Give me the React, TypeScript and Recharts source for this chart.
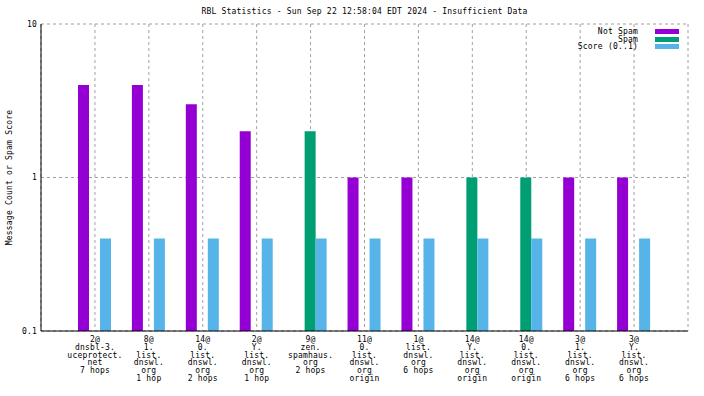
import { Bar, BarChart, CartesianGrid, XAxis, YAxis } from "recharts";

const categories = [
  "2@\ndnsbl-3.\nuceprotect.\nnet\n7 hops",
  "8@\n1.\nlist.\ndnswl.\norg\n1 hop",
  "14@\n0.\nlist.\ndnswl.\norg\n2 hops",
  "2@\nY.\nlist.\ndnswl.\norg\n1 hop",
  "9@\nzen.\nspamhaus.\norg\n2 hops",
  "11@\n0.\nlist.\ndnswl.\norg\norigin",
  "1@\nlist.\ndnswl.\norg\n6 hops",
  "14@\nY.\nlist.\ndnswl.\norg\norigin",
  "14@\n0.\nlist.\ndnswl.\norg\norigin",
  "3@\n1.\nlist.\ndnswl.\norg\n6 hops",
  "3@\nY.\nlist.\ndnswl.\norg\n6 hops",
];
const notSpam = [4, 4, 3, 2, null, 1, 1, null, null, 1, 1];
const spam = [null, null, null, null, 2, null, null, 1, 1, null, null];
const score = [0.4, 0.4, 0.4, 0.4, 0.4, 0.4, 0.4, 0.4, 0.4, 0.4, 0.4];

const majorTicks = [0.1, 1, 10];
const minorTicks = [0.2, 0.3, 0.4, 0.5, 0.6, 0.7, 0.8, 0.9, 2, 3, 4, 5, 6, 7, 8, 9];

const title = "RBL Statistics - Sun Sep 22 12:58:04 EDT 2024 - Insufficient Data";
const yTitle = "Message Count or Spam Score";

const series = [
  { key: "notSpam", name: "Not Spam", color: "#9400d3" },
  { key: "spam", name: "Spam", color: "#009e73" },
  { key: "score", name: "Score (0..1)", color: "#56b4e9" },
];

const data = categories.map((name, i) => ({
  name,
  notSpam: notSpam[i],
  spam: spam[i],
  score: score[i],
}));

const FONT = "'DejaVu Sans Mono', monospace";
const txt = { fontFamily: FONT, fontSize: 8, letterSpacing: 0.2, fill: "#000" };
const blank = () => "";

function CatTick({ x, y, payload }: any) {
  const lines = String(payload.value).split("\n");
  return (
    <text x={x} y={y} textAnchor="middle" {...txt}>
      {lines.map((l, i) => (
        <tspan key={i} x={x} dy={i === 0 ? 11 : 7.8}>
          {l}
        </tspan>
      ))}
    </text>
  );
}

export default function App() {
  return (
    <div style={{ position: "absolute", left: 0, top: 0, width: 704, height: 396, background: "#fff" }}>
      <div
        style={{
          position: "absolute",
          left: 41,
          width: 647,
          top: 7,
          textAlign: "center",
          fontFamily: FONT,
          fontSize: 8,
          letterSpacing: 0.2,
          lineHeight: "10px",
        }}
      >
        {title}
      </div>
      <div
        style={{
          position: "absolute",
          right: 25,
          top: 28,
          zIndex: 2,
          fontFamily: FONT,
          fontSize: 8,
          letterSpacing: 0.2,
        }}
      >
        {series.map((s) => (
          <div key={s.key} style={{ display: "flex", alignItems: "center", justifyContent: "flex-end", height: 7.5 }}>
            <span style={{ marginRight: 17, lineHeight: "7.5px" }}>{s.name}</span>
            <span style={{ width: 24, height: 5, background: s.color, display: "inline-block" }} />
          </div>
        ))}
      </div>
      <BarChart
        width={704}
        height={396}
        data={data}
        margin={{ top: 24, right: 16, bottom: 0, left: 0 }}
        barSize={11}
        barGap={0}
      >
        <CartesianGrid xAxisId="main" yAxisId="main" stroke="#a0a0a0" strokeDasharray="3 3" />
        <XAxis
          xAxisId="main"
          dataKey="name"
          height={65}
          interval={0}
          padding={{ left: 27, right: 27 }}
          tickLine={false}
          tickSize={0}
          tickMargin={0}
          axisLine={{ stroke: "#000" }}
          tick={<CatTick />}
        />
        <XAxis
          xAxisId="bottomTicks"
          dataKey="name"
          height={0}
          mirror
          interval={0}
          padding={{ left: 27, right: 27 }}
          axisLine={false}
          tickSize={4}
          tickLine={{ stroke: "#000" }}
          tickFormatter={blank}
        />
        <XAxis
          xAxisId="top"
          orientation="top"
          dataKey="name"
          height={0}
          mirror
          interval={0}
          padding={{ left: 27, right: 27 }}
          axisLine={{ stroke: "#000" }}
          tickSize={4}
          tickLine={{ stroke: "#000" }}
          tickFormatter={blank}
        />
        <YAxis
          yAxisId="main"
          scale="log"
          type="number"
          domain={[0.1, 10]}
          allowDataOverflow
          ticks={majorTicks}
          interval={0}
          width={41}
          tickLine={false}
          tickSize={0}
          tickMargin={4}
          axisLine={{ stroke: "#000" }}
          tick={txt}
          label={{
            value: yTitle,
            content: ({ viewBox }: any) => (
              <text
                x={9}
                y={viewBox.y + viewBox.height / 2}
                transform={`rotate(-90, 9, ${viewBox.y + viewBox.height / 2})`}
                textAnchor="middle"
                dominantBaseline="middle"
                {...txt}
              >
                {yTitle}
              </text>
            ),
          }}
        />
        {[
          { id: "lMaj", side: "left", ticks: majorTicks, size: 5, line: false },
          { id: "lMin", side: "left", ticks: minorTicks, size: 3, line: false },
          { id: "rMaj", side: "right", ticks: majorTicks, size: 5, line: true },
          { id: "rMin", side: "right", ticks: minorTicks, size: 3, line: false },
        ].map((a) => (
          <YAxis
            key={a.id}
            yAxisId={a.id}
            orientation={a.side as any}
            mirror
            width={0}
            scale="log"
            type="number"
            domain={[0.1, 10]}
            allowDataOverflow
            ticks={a.ticks}
            interval={0}
            tickSize={a.size}
            tickLine={{ stroke: "#000" }}
            axisLine={a.line ? { stroke: "#000" } : false}
            tickFormatter={blank}
          />
        ))}
        {series.map((s) => (
          <Bar
            key={s.key}
            xAxisId="main"
            yAxisId="main"
            dataKey={s.key}
            name={s.name}
            fill={s.color}
            isAnimationActive={false}
          />
        ))}
      </BarChart>
    </div>
  );
}
